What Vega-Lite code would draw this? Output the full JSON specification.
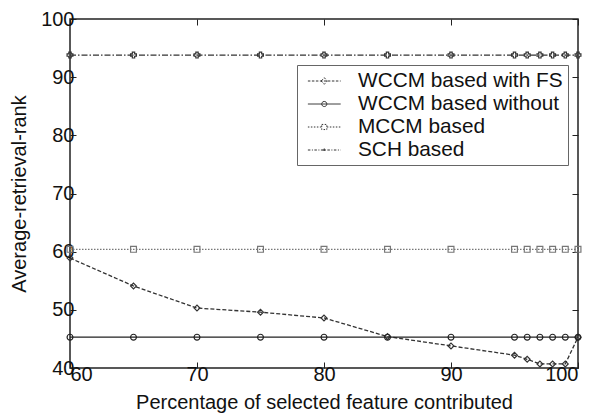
{
  "$schema": "https://vega.github.io/schema/vega-lite/v6.json",
  "autosize": "none",
  "width": 508,
  "height": 349,
  "padding": {"left": 70, "top": 19, "right": 18, "bottom": 46},
  "background": "white",
  "config": {
    "font": "Liberation Sans",
    "view": {"stroke": "#222", "strokeWidth": 1.5},
    "axis": {"grid": false, "domain": false, "tickColor": "#222", "tickSize": -6, "labelColor": "#111", "titleColor": "#111", "labelFontSize": 20, "titleFontSize": 20, "titleFontWeight": "normal"}
  },
  "data": {"values": [
    {"pct": 60, "series": "WCCM based with FS", "rank": 58.9},
    {"pct": 65, "series": "WCCM based with FS", "rank": 54.1},
    {"pct": 70, "series": "WCCM based with FS", "rank": 50.3},
    {"pct": 75, "series": "WCCM based with FS", "rank": 49.6},
    {"pct": 80, "series": "WCCM based with FS", "rank": 48.6},
    {"pct": 85, "series": "WCCM based with FS", "rank": 45.4},
    {"pct": 90, "series": "WCCM based with FS", "rank": 43.8},
    {"pct": 95, "series": "WCCM based with FS", "rank": 42.2},
    {"pct": 96, "series": "WCCM based with FS", "rank": 41.5},
    {"pct": 97, "series": "WCCM based with FS", "rank": 40.7},
    {"pct": 98, "series": "WCCM based with FS", "rank": 40.7},
    {"pct": 99, "series": "WCCM based with FS", "rank": 40.7},
    {"pct": 100, "series": "WCCM based with FS", "rank": 45.3},
    {"pct": 60, "series": "WCCM based without", "rank": 45.3},
    {"pct": 65, "series": "WCCM based without", "rank": 45.3},
    {"pct": 70, "series": "WCCM based without", "rank": 45.3},
    {"pct": 75, "series": "WCCM based without", "rank": 45.3},
    {"pct": 80, "series": "WCCM based without", "rank": 45.3},
    {"pct": 85, "series": "WCCM based without", "rank": 45.3},
    {"pct": 90, "series": "WCCM based without", "rank": 45.3},
    {"pct": 95, "series": "WCCM based without", "rank": 45.3},
    {"pct": 96, "series": "WCCM based without", "rank": 45.3},
    {"pct": 97, "series": "WCCM based without", "rank": 45.3},
    {"pct": 98, "series": "WCCM based without", "rank": 45.3},
    {"pct": 99, "series": "WCCM based without", "rank": 45.3},
    {"pct": 100, "series": "WCCM based without", "rank": 45.3},
    {"pct": 60, "series": "MCCM based", "rank": 60.4},
    {"pct": 65, "series": "MCCM based", "rank": 60.4},
    {"pct": 70, "series": "MCCM based", "rank": 60.4},
    {"pct": 75, "series": "MCCM based", "rank": 60.4},
    {"pct": 80, "series": "MCCM based", "rank": 60.4},
    {"pct": 85, "series": "MCCM based", "rank": 60.4},
    {"pct": 90, "series": "MCCM based", "rank": 60.4},
    {"pct": 95, "series": "MCCM based", "rank": 60.4},
    {"pct": 96, "series": "MCCM based", "rank": 60.4},
    {"pct": 97, "series": "MCCM based", "rank": 60.4},
    {"pct": 98, "series": "MCCM based", "rank": 60.4},
    {"pct": 99, "series": "MCCM based", "rank": 60.4},
    {"pct": 100, "series": "MCCM based", "rank": 60.4},
    {"pct": 60, "series": "SCH based", "rank": 93.8},
    {"pct": 65, "series": "SCH based", "rank": 93.8},
    {"pct": 70, "series": "SCH based", "rank": 93.8},
    {"pct": 75, "series": "SCH based", "rank": 93.8},
    {"pct": 80, "series": "SCH based", "rank": 93.8},
    {"pct": 85, "series": "SCH based", "rank": 93.8},
    {"pct": 90, "series": "SCH based", "rank": 93.8},
    {"pct": 95, "series": "SCH based", "rank": 93.8},
    {"pct": 96, "series": "SCH based", "rank": 93.8},
    {"pct": 97, "series": "SCH based", "rank": 93.8},
    {"pct": 98, "series": "SCH based", "rank": 93.8},
    {"pct": 99, "series": "SCH based", "rank": 93.8},
    {"pct": 100, "series": "SCH based", "rank": 93.8}
  ]},
  "layer": [
    {
      "mark": {"type": "line", "strokeWidth": 1.3, "clip": false},
      "encoding": {
        "x": {"field": "pct", "type": "quantitative", "scale": {"domain": [60, 100], "nice": false, "zero": false}, "axis": {"orient": "bottom", "values": [60, 70, 80, 90, 100], "title": "Percentage of selected feature contributed", "titlePadding": 8, "labelPadding": 2}},
        "y": {"field": "rank", "type": "quantitative", "scale": {"domain": [40, 100], "nice": false, "zero": false}, "axis": {"orient": "left", "values": [40, 50, 60, 70, 80, 90, 100], "title": "Average-retrieval-rank", "titlePadding": 11, "labelPadding": 2}},
        "detail": {"field": "series"},
        "color": {"field": "series", "type": "nominal", "scale": {"domain": ["WCCM based with FS", "WCCM based without", "MCCM based", "SCH based"], "range": ["#333", "#222", "#777", "#333"]}, "legend": null},
        "strokeDash": {"field": "series", "type": "nominal", "scale": {"domain": ["WCCM based with FS", "WCCM based without", "MCCM based", "SCH based"], "range": [[4, 2], [1, 0], [1.5, 1.5], [6, 2, 1.5, 2]]}, "legend": null}
      }
    },
    {
      "mark": {"type": "point", "filled": false, "strokeWidth": 1.2, "size": 34, "clip": false, "opacity": 1},
      "encoding": {
        "x": {"field": "pct", "type": "quantitative", "axis": {"orient": "top", "values": [60, 70, 80, 90, 100], "labels": false, "title": null}},
        "y": {"field": "rank", "type": "quantitative", "axis": {"orient": "right", "values": [40, 50, 60, 70, 80, 90, 100], "labels": false, "title": null}},
        "color": {"field": "series", "type": "nominal", "legend": null},
        "shape": {"field": "series", "type": "nominal", "scale": {"domain": ["WCCM based with FS", "WCCM based without", "MCCM based", "SCH based"], "range": ["diamond", "circle", "square", "cross"]}, "legend": null}
      }
    },
    {
      "mark": {"type": "point", "filled": false, "opacity": 0},
      "encoding": {
        "x": {"field": "pct", "type": "quantitative", "axis": null},
        "y": {"field": "rank", "type": "quantitative", "axis": null},
        "shape": {"field": "series", "type": "nominal", "scale": {"domain": ["WCCM based with FS", "WCCM based without", "MCCM based", "SCH based"], "range": [
          "M-0.5,0H2.7M0.8,0L1.1,-0.32L1.4,0L1.1,0.32Z",
          "M-0.5,0H2.7M0.85,0A0.25,0.25 0 1,0 1.35,0A0.25,0.25 0 1,0 0.85,0Z",
          "M-0.5,0H0.85M1.35,0H2.7M0.85,-0.25H1.35V0.25H0.85Z",
          "M-0.5,0H2.7M0.95,0H1.25M1.1,-0.15V0.15"
        ]}, "legend": {"title": null, "orient": "none", "legendX": 227, "legendY": 46, "symbolType": "stroke", "symbolSize": 420, "symbolOpacity": 1, "symbolStrokeColor": "#333", "symbolStrokeWidth": 1, "labelFontSize": 20.8, "labelColor": "#111", "labelLimit": 400, "rowPadding": 2, "padding": 5, "strokeColor": "#666", "fillColor": "white", "labelOffset": 34}},
        "strokeDash": {"field": "series", "type": "nominal", "scale": {"domain": ["WCCM based with FS", "WCCM based without", "MCCM based", "SCH based"], "range": [[2.5, 1.5], [1, 0], [1.5, 1.5], [2.5, 1.5, 1, 1.5]]}}
      }
    }
  ],
  "resolve": {"scale": {"shape": "independent", "strokeDash": "independent"}, "axis": {"x": "independent", "y": "independent"}}
}
